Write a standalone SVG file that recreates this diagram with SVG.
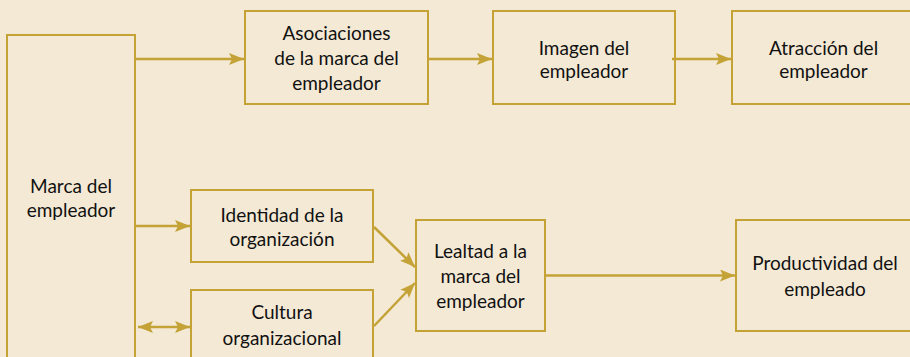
<svg xmlns="http://www.w3.org/2000/svg" width="910" height="357" viewBox="0 0 910 357">
<defs>
<style>
.box{fill:none;stroke:#c4a236;stroke-width:2}
.ln{fill:none;stroke:#c4a236;stroke-width:2.5}
text{font-family:Lato,"Noto Sans",sans-serif;font-size:19px;fill:#111;text-anchor:middle}
</style>
<marker id="ah" markerUnits="userSpaceOnUse" markerWidth="16" markerHeight="14" refX="15" refY="6" orient="auto">
<path d="M0,0 L15,6 L0,12 L3,6 z" fill="#c4a236"/>
</marker>
<marker id="as" markerUnits="userSpaceOnUse" markerWidth="16" markerHeight="14" refX="0" refY="6" orient="auto">
<path d="M15,0 L0,6 L15,12 L12,6 z" fill="#c4a236"/>
</marker>
</defs>
<rect width="910" height="357" fill="#f4e9d5"/>
<g id="connectors">
<line class="ln" x1="136" y1="59" x2="244" y2="59" marker-end="url(#ah)"/>
<line class="ln" x1="428" y1="59" x2="492" y2="59" marker-end="url(#ah)"/>
<line class="ln" x1="672" y1="59" x2="731" y2="59" marker-end="url(#ah)"/>
<line class="ln" x1="136" y1="226" x2="190" y2="226" marker-end="url(#ah)"/>
<line class="ln" x1="138" y1="327" x2="190" y2="327" marker-start="url(#as)" marker-end="url(#ah)"/>
<line class="ln" x1="374" y1="227" x2="415" y2="267" marker-end="url(#ah)"/>
<line class="ln" x1="374" y1="326" x2="415" y2="283" marker-end="url(#ah)"/>
<line class="ln" x1="546" y1="275.5" x2="735" y2="275.5" marker-end="url(#ah)"/>
</g>
<g id="marca">
<rect class="box" x="7" y="35" width="128" height="340"/>
<text x="71" y="193">Marca del</text>
<text x="71" y="217">empleador</text>
</g>
<g id="asociaciones">
<rect class="box" x="245" y="11" width="183" height="93"/>
<text x="336.5" y="40">Asociaciones</text>
<text x="336.5" y="65">de la marca del</text>
<text x="336.5" y="90">empleador</text>
</g>
<g id="imagen">
<rect class="box" x="493" y="11" width="182" height="93"/>
<text x="584" y="55">Imagen del</text>
<text x="584" y="78">empleador</text>
</g>
<g id="atraccion">
<rect class="box" x="732" y="11" width="200" height="93"/>
<text x="823.5" y="55">Atracción del</text>
<text x="823.5" y="78">empleador</text>
</g>
<g id="identidad">
<rect class="box" x="191" y="190" width="182" height="72"/>
<text x="282" y="222">Identidad de la</text>
<text x="282" y="246">organización</text>
</g>
<g id="cultura">
<rect class="box" x="191" y="290" width="182" height="90"/>
<text x="282" y="319">Cultura</text>
<text x="282" y="345">organizacional</text>
</g>
<g id="lealtad">
<rect class="box" x="416" y="220" width="129" height="111"/>
<text x="480.5" y="258">Lealtad a la</text>
<text x="480.5" y="283">marca del</text>
<text x="480.5" y="308">empleador</text>
</g>
<g id="productividad">
<rect class="box" x="736" y="220" width="200" height="111"/>
<text x="825" y="270">Productividad del</text>
<text x="825" y="296">empleado</text>
</g>
</svg>
